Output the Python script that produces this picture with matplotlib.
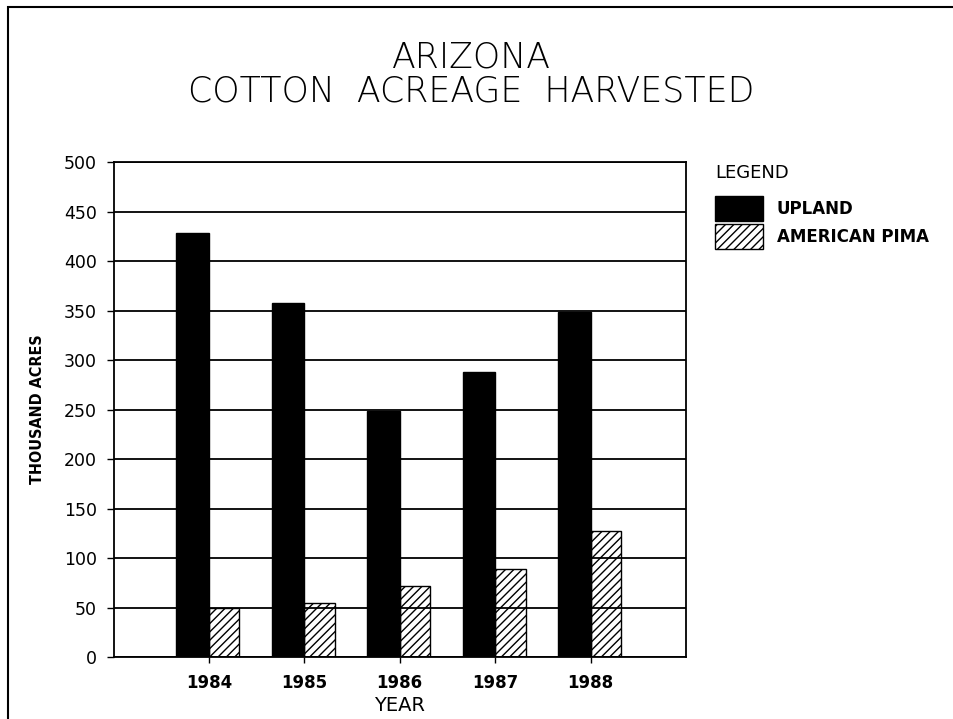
import matplotlib
matplotlib.use("Agg")
import matplotlib.pyplot as plt
from matplotlib.patches import Rectangle

years = ["1984", "1985", "1986", "1987", "1988"]
upland = [429, 358, 249, 288, 349]
pima = [50, 55, 72, 89, 127]
y_ticks = [0, 50, 100, 150, 200, 250, 300, 350, 400, 450, 500]


def main():
    plt.rcParams["font.family"] = "DejaVu Sans"
    plt.rcParams["hatch.linewidth"] = 1.0
    plt.rcParams["hatch.color"] = "black"

    fig = plt.figure(figsize=(9.54, 7.19), dpi=100)
    ax = fig.add_axes([0.119, 0.0862, 0.600, 0.688])

    x = list(range(len(years)))
    ax.bar([i - 0.34 for i in x], upland, width=0.34, align="edge",
           color="black", edgecolor="black", label="UPLAND", zorder=3)
    ax.bar(x, pima, width=0.32, align="edge", facecolor="none",
           edgecolor="black", hatch="////", linewidth=1.0,
           label="AMERICAN PIMA", zorder=3)

    ax.set_xlim(-1, 5)
    ax.set_ylim(0, 500)
    ax.set_xticks(x)
    ax.set_xticklabels(years, fontsize=12, fontweight="bold")
    ax.set_yticks(y_ticks)
    ax.set_yticklabels([str(v) for v in y_ticks], fontsize=12.5)
    ax.tick_params(axis="x", direction="out", length=4, width=1, pad=8)
    ax.tick_params(axis="y", direction="out", length=5, width=1, pad=7)

    ax.yaxis.grid(True, color="black", linewidth=1.3)
    ax.set_axisbelow(True)
    for s in ax.spines.values():
        s.set_linewidth(1.3)

    ax.set_xlabel("YEAR", fontsize=14, va="center")
    ax.xaxis.set_label_coords(0.5, -0.097)
    ax.set_ylabel("THOUSAND ACRES", fontsize=11.5, fontweight="bold",
                  fontstretch="condensed", va="center")
    ax.yaxis.set_label_coords(-0.132, 0.5)

    # two-line title in a thin face
    fig.text(0.494, 1 - 57 / 719, "ARIZONA", ha="center", va="center",
             fontsize=25, fontweight="light")
    fig.text(0.494, 1 - 91 / 719, "COTTON  ACREAGE  HARVESTED", ha="center",
             va="center", fontsize=25, fontweight="light")

    fig.text(715 / 954, 1 - 173 / 719, "LEGEND", ha="left", va="center",
             fontsize=13)
    ax.legend(loc="upper left", bbox_to_anchor=(715 / 954, 1 - 196 / 719),
              bbox_transform=fig.transFigure, frameon=False, borderpad=0,
              borderaxespad=0, handlelength=2.87, handleheight=1.93,
              labelspacing=0.18, handletextpad=0.84,
              prop={"size": 12, "weight": "bold"})

    # page frame
    fig.patches.append(Rectangle((8 / 954, -0.05), 1.2, 1 - 7 / 719 + 0.05,
                                 transform=fig.transFigure, fill=False,
                                 edgecolor="black", linewidth=1.5))

    fig.savefig("out.png", dpi=100)


if __name__ == "__main__":
    main()
